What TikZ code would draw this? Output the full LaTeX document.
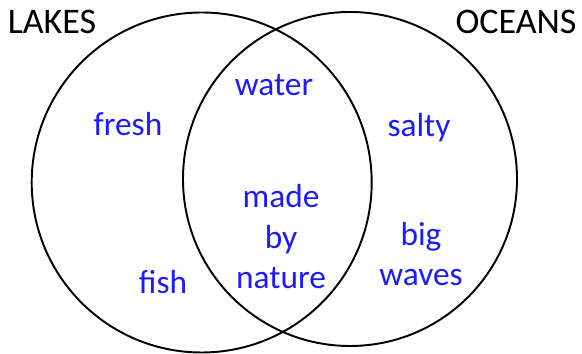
\documentclass[tikz,border=0pt]{standalone}
\usepackage{fontspec}
\setmainfont{Carlito}
\definecolor{itemblue}{RGB}{28,28,250}

\begin{document}
\begin{tikzpicture}[
    x=0.02cm, y=0.02cm,
    setline/.style={draw=black, line width=1.1pt},
    setname/.style={anchor=base, text=black, font=\fontsize{20.5}{24}\selectfont},
    item/.style={anchor=base, text=itemblue, align=center, font=\fontsize{19}{23.3}\selectfont}
]
\useasboundingbox (0,0) rectangle (582,354);

% the two sets
\draw[setline] (201.7,171.5) circle (170);
\draw[setline] (350,175) circle (167);

% set names
\node[setname] (lakes) at (52,320) {LAKES};
\node[setname] (oceans) at (516,320) {OCEANS};

% ==========================================
% lakes only
\node[item] (fresh) at (128,218) {fresh};
\node[item] (fish) at (163,60) {fish};

% both (base = last line)
\node[item] (water) at (274,258) {water};
\node[item] (nature) at (281,65) {made\\by\\nature};

% oceans only
\node[item] (salty) at (419,217) {salty};
\node[item] (waves) at (421,68) {big\\waves};

\end{tikzpicture}
\end{document}
